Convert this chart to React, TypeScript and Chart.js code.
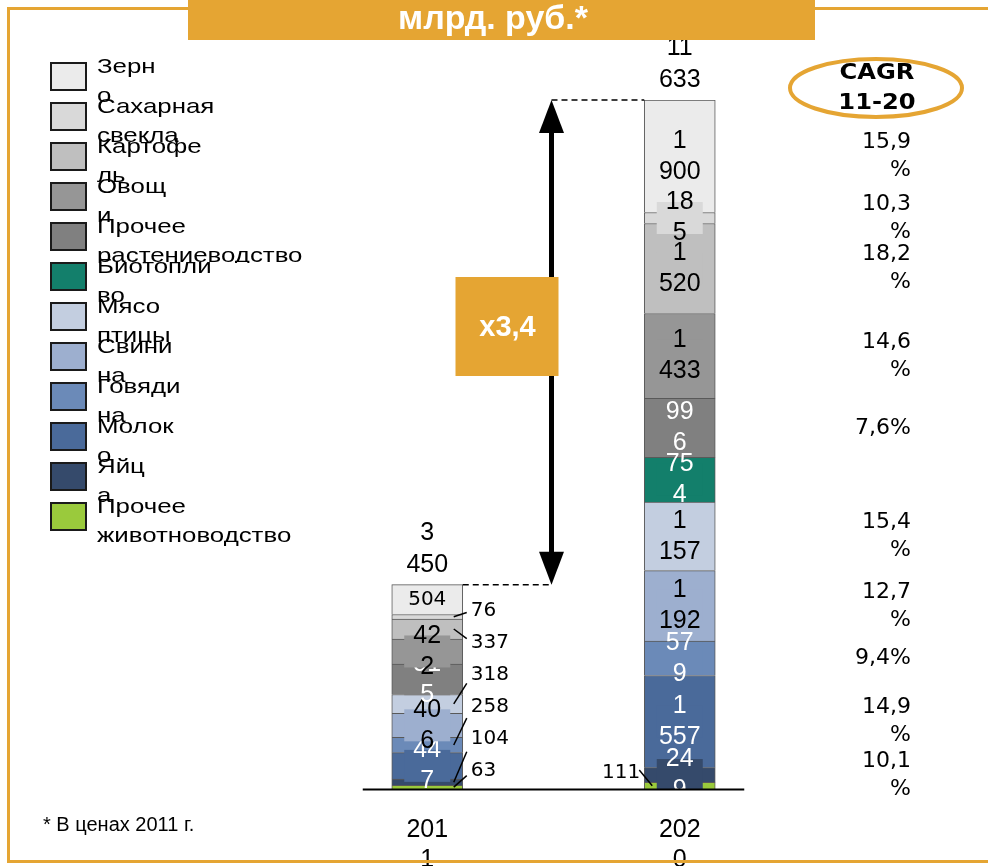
import { useEffect, useRef } from 'react';
import { Chart, registerables } from 'chart.js';

Chart.register(...registerables);

// ---------- data ----------
const years = ['2011', '2020'];
const seriesNames = [
  'Зерно',
  'Сахарная свекла',
  'Картофель',
  'Овощи',
  'Прочее растениеводство',
  'Биотопливо',
  'Мясо птицы',
  'Свинина',
  'Говядина',
  'Молоко',
  'Яйца',
  'Прочее животноводство',
];
// where the legend text wraps onto a second line
const legendBreaks = [4, 8, 7, 4, 6, 8, 4, 5, 6, 5, 3, 6];
const values2011 = [504, 76, 337, 422, 515, 0, 318, 406, 258, 447, 104, 63];
const values2020 = [1900, 185, 1520, 1433, 996, 754, 1157, 1192, 579, 1557, 249, 111];
const cagr: (number | null)[] = [15.9, 10.3, 18.2, 14.6, 7.6, null, 15.4, 12.7, 9.4, 14.9, 10.1, null];
const colors = [
  '#EBEBEB', '#D9D9D9', '#BFBFBF', '#969696', '#808080', '#137F6B',
  '#C3CEE0', '#9DAFCF', '#6B8AB8', '#4A6A9A', '#354A6B', '#9ACA3C',
];
const whiteText = [false, false, false, false, true, true, false, false, true, true, true, false];
const labelModes2011 = ['small', 'out', 'out', 'in', 'in', 'none', 'out', 'in', 'out', 'in', 'out', 'out'];
const labelModes2020 = ['in', 'in', 'in', 'in', 'in', 'in', 'in', 'in', 'in', 'in', 'in', 'left'];
const titleText = 'млрд. руб.*';
const cagrTitle = ['CAGR', '11-20'];
const footnote = '* В ценах 2011 г.';

// ---------- helpers ----------
const ORANGE = '#E5A533';
const SANS = '"Liberation Sans", Arial, sans-serif';
const DEJAVU = '"DejaVu Sans", sans-serif';
const n = seriesNames.length;
const dsIndexOf = (i: number) => n - 1 - i;
const sum = (a: number[]) => a.reduce((s, v) => s + v, 0);

function fmtThousands(v: number): string[] {
  if (v >= 1000) return [String(Math.floor(v / 1000)), String(v % 1000).padStart(3, '0')];
  return [String(v)];
}
function fmtInside(v: number): string[] {
  if (v >= 1000) return fmtThousands(v);
  const s = String(v);
  return s.length > 2 ? [s.slice(0, 2), s.slice(2)] : [s];
}
function fmtCagr(v: number): string[] {
  const s = v.toFixed(1).replace('.', ',') + '%';
  return s.length > 4 ? [s.slice(0, -1), '%'] : [s];
}

function txt(
  ctx: CanvasRenderingContext2D, s: string, x: number, y: number, font: string, color: string,
  align: CanvasTextAlign = 'center', base: CanvasTextBaseline = 'middle', sx = 1,
) {
  ctx.save();
  ctx.font = font;
  ctx.fillStyle = color;
  ctx.textAlign = align;
  ctx.textBaseline = base;
  ctx.translate(x, y);
  ctx.scale(sx, 1);
  ctx.fillText(s, 0, 0);
  ctx.restore();
}

const decorPlugin = {
  id: 'decor',
  afterDatasetsDraw(chart: any) {
    const ctx: CanvasRenderingContext2D = chart.ctx;
    const area = chart.chartArea;
    const el = (i: number, idx: number) => chart.getDatasetMeta(dsIndexOf(i)).data[idx] as any;
    const vals = [values2011, values2020];
    const modes = [labelModes2011, labelModes2020];

    // ---- data labels (clipped at the axis) ----
    ctx.save();
    ctx.beginPath();
    ctx.rect(0, 0, chart.width, area.bottom);
    ctx.clip();
    for (let idx = 0; idx < 2; idx++) {
      const top = el(0, idx);
      const barTop = top.y;
      const half = top.width / 2;
      let outK = 0;
      const outs: { i: number; k: number }[] = [];
      for (let i = 0; i < n; i++) if (modes[idx][i] === 'out') outs.push({ i, k: outK++ });
      for (let i = n - 1; i >= 0; i--) {
        const m = modes[idx][i];
        const e = el(i, idx);
        const v = vals[idx][i];
        const cy = (e.y + e.base) / 2;
        const col = whiteText[i] ? '#FFFFFF' : '#000000';
        if (m === 'in') {
          const lines = fmtInside(v);
          ctx.fillStyle = colors[i];
          ctx.fillRect(e.x - 23, cy - 16, 46, 32);
          lines.forEach((l, k) =>
            txt(ctx, l, e.x, cy + (k - (lines.length - 1) / 2) * 31, `25px ${SANS}`, col));
        } else if (m === 'small') {
          txt(ctx, String(v), e.x, cy, `20px ${DEJAVU}`, '#000');
        } else if (m === 'out') {
          const k = outs.find((o) => o.i === i)!.k;
          const ly = barTop + 26 + 32 * k;
          const right = e.x + half;
          txt(ctx, String(v), right + 8, ly, `20px ${DEJAVU}`, '#000', 'left');
          ctx.strokeStyle = '#000';
          ctx.lineWidth = 1.5;
          ctx.beginPath();
          ctx.moveTo(right - 9, cy);
          ctx.lineTo(right + 4, ly + 0.3 * (cy - ly));
          ctx.stroke();
        } else if (m === 'left') {
          const left = e.x - half;
          const ly = e.base - 16;
          txt(ctx, String(v), left - 4, ly, `20px ${DEJAVU}`, '#000', 'right');
          ctx.strokeStyle = '#000';
          ctx.lineWidth = 1.5;
          ctx.beginPath();
          ctx.moveTo(left - 5, ly - 3);
          ctx.lineTo(left + 8, cy);
          ctx.stroke();
        }
      }
    }
    ctx.restore();

    // ---- totals above bars ----
    const totals = [sum(values2011), sum(values2020)];
    const b0 = el(0, 0);
    const b1 = el(0, 1);
    [b0, b1].forEach((b, idx) => {
      const lines = fmtThousands(totals[idx]);
      lines.forEach((l, k) => txt(ctx, l, b.x, b.y - 20 - (lines.length - 1 - k) * 32, `25px ${SANS}`, '#000'));
    });

    // ---- axis line ----
    const r0 = b0.x - b0.width / 2;
    const r1 = b1.x + b1.width / 2;
    ctx.strokeStyle = '#000';
    ctx.lineWidth = 2;
    ctx.beginPath();
    ctx.moveTo(r0 - 29, area.bottom + 0.5);
    ctx.lineTo(r1 + 29, area.bottom + 0.5);
    ctx.stroke();

    // ---- dashed lines + arrow ----
    const right2011 = b0.x + b0.width / 2;
    const left2020 = b1.x - b1.width / 2;
    const ax = (right2011 + left2020) / 2 - 2;
    ctx.save();
    ctx.setLineDash([6, 4]);
    ctx.lineWidth = 1.5;
    ctx.beginPath();
    ctx.moveTo(right2011, b0.y);
    ctx.lineTo(ax, b0.y);
    ctx.moveTo(ax, b1.y);
    ctx.lineTo(left2020, b1.y);
    ctx.stroke();
    ctx.restore();
    ctx.lineWidth = 5;
    ctx.beginPath();
    ctx.moveTo(ax, b1.y + 30);
    ctx.lineTo(ax, b0.y - 30);
    ctx.stroke();
    ctx.fillStyle = '#000';
    ctx.beginPath();
    ctx.moveTo(ax, b1.y);
    ctx.lineTo(ax - 12.5, b1.y + 33);
    ctx.lineTo(ax + 12.5, b1.y + 33);
    ctx.closePath();
    ctx.fill();
    ctx.beginPath();
    ctx.moveTo(ax, b0.y);
    ctx.lineTo(ax - 12.5, b0.y - 33);
    ctx.lineTo(ax + 12.5, b0.y - 33);
    ctx.closePath();
    ctx.fill();

    // ---- multiplier box ----
    ctx.fillStyle = ORANGE;
    ctx.fillRect(ax - 96, 277, 103, 99);
    const mult = 'x' + (totals[1] / totals[0]).toFixed(1).replace('.', ',');
    txt(ctx, mult, ax - 44, 328, `bold 29px ${SANS}`, '#fff');

    // ---- CAGR column ----
    ctx.strokeStyle = ORANGE;
    ctx.lineWidth = 4;
    ctx.beginPath();
    ctx.ellipse(876, 88, 86, 29, 0, 0, Math.PI * 2);
    ctx.stroke();
    txt(ctx, cagrTitle[0], 877, 73, `bold 22px ${DEJAVU}`, '#000', 'center', 'middle', 1.1);
    txt(ctx, cagrTitle[1], 877, 103, `bold 22px ${DEJAVU}`, '#000', 'center', 'middle', 1.1);
    for (let i = 0; i < n; i++) {
      const c = cagr[i];
      if (c == null) continue;
      const e = el(i, 1);
      const cy = (e.y + e.base) / 2;
      const lines = fmtCagr(c);
      lines.forEach((l, k) =>
        txt(ctx, l, 911, cy + (k - (lines.length - 1) / 2) * 28, `22px ${DEJAVU}`, '#000', 'right'));
    }
  },
  afterDraw(chart: any) {
    const ctx: CanvasRenderingContext2D = chart.ctx;
    // ---- legend ----
    for (let i = 0; i < n; i++) {
      const top = 63 + 40 * i;
      ctx.fillStyle = '#fff';
      ctx.fillRect(90, top, 240, 40);
      ctx.fillStyle = colors[i];
      ctx.fillRect(51, top, 35, 27);
      ctx.strokeStyle = '#1a1a1a';
      ctx.lineWidth = 2;
      ctx.strokeRect(51, top, 35, 27);
      const name = seriesNames[i];
      const lines = [name.slice(0, legendBreaks[i]).trim(), name.slice(legendBreaks[i]).trim()].filter(Boolean);
      lines.forEach((l, k) => txt(ctx, l, 97, top + 10 + k * 29, `21px ${SANS}`, '#000', 'left', 'alphabetic', 1.23));
    }
    // ---- frame ----
    ctx.strokeStyle = ORANGE;
    ctx.lineWidth = 3;
    ctx.beginPath();
    ctx.moveTo(chart.width, 8.5);
    ctx.lineTo(8.5, 8.5);
    ctx.lineTo(8.5, 861.5);
    ctx.lineTo(chart.width, 861.5);
    ctx.stroke();
    // ---- title ----
    ctx.fillStyle = ORANGE;
    ctx.fillRect(188, 0, 627, 40);
    txt(ctx, titleText, 493, 20, `bold 33px ${SANS}`, '#fff', 'center', 'middle', 1.03);
    // ---- footnote ----
    txt(ctx, footnote, 43, 825, `20px ${SANS}`, '#000', 'left');
  },
};

export default function App() {
  const ref = useRef<HTMLCanvasElement | null>(null);
  useEffect(() => {
    if (!ref.current) return;
    const order = seriesNames.map((_, i) => i).reverse();
    const chart = new Chart(ref.current, {
      type: 'bar',
      data: {
        labels: years,
        datasets: order.map((i) => ({
          label: seriesNames[i],
          data: [values2011[i], values2020[i]],
          backgroundColor: colors[i],
          borderColor: '#595959',
          borderWidth: 1,
          barThickness: 71,
        })),
      },
      options: {
        responsive: false,
        devicePixelRatio: 1,
        animation: false,
        layout: { padding: { top: 100, left: 301, right: 182, bottom: 0 } },
        plugins: { legend: { display: false }, tooltip: { enabled: false }, title: { display: false } },
        scales: {
          x: {
            stacked: true,
            grid: { display: false, drawTicks: false },
            border: { display: false },
            ticks: {
              color: '#000',
              padding: 26,
              font: { family: SANS, size: 25, lineHeight: 1.2 },
              callback: (_v: any, i: number) => [years[i].slice(0, 3), years[i].slice(3)],
            },
            afterFit: (s: any) => {
              s.height = 77;
            },
          },
          y: {
            stacked: true,
            display: false,
            min: 0,
            max: sum(values2020),
          },
        },
      },
      plugins: [decorPlugin],
    });
    return () => chart.destroy();
  }, []);
  return (
    <div style={{ position: 'fixed', left: 0, top: 0, width: 988, height: 866, background: '#fff' }}>
      <canvas ref={ref} width={988} height={866} style={{ display: 'block' }} />
    </div>
  );
}
